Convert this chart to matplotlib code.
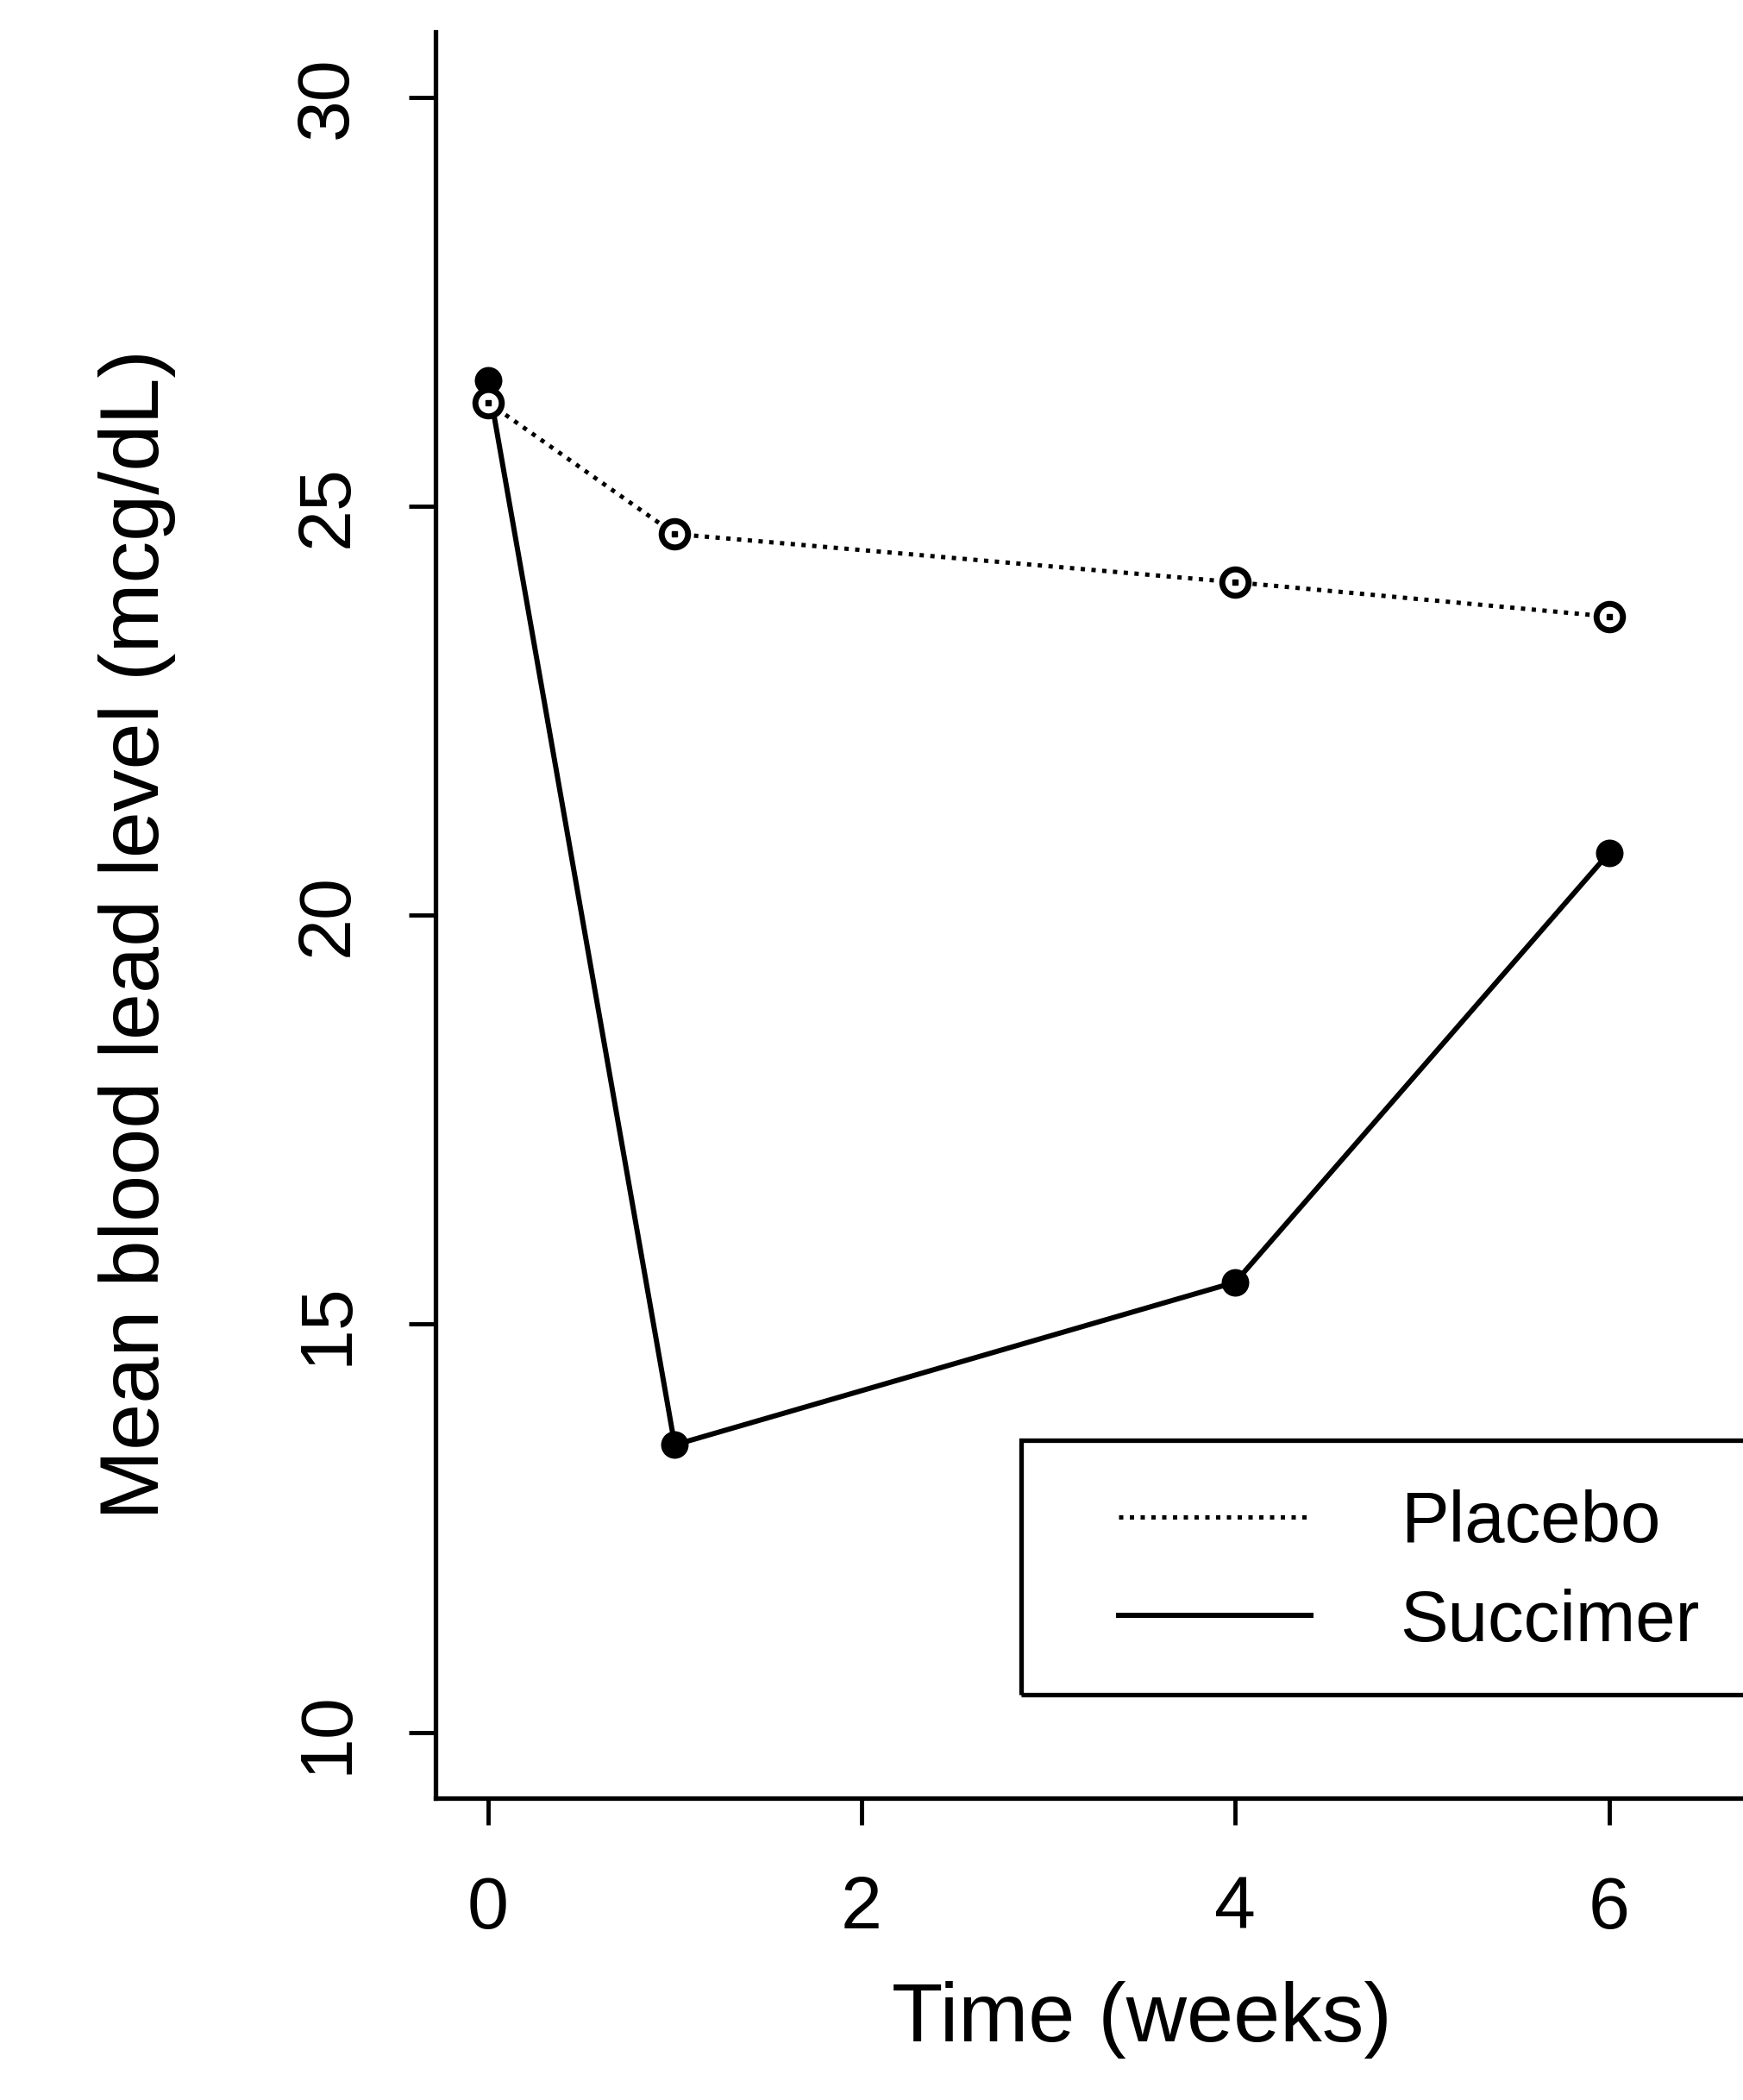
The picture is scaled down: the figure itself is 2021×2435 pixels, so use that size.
import matplotlib
matplotlib.use("Agg")
import matplotlib.pyplot as plt
from matplotlib.lines import Line2D
from matplotlib.patches import Rectangle

# mean blood lead level by group (TLC trial)
weeks = [0, 1, 4, 6]
placebo = [26.27, 24.66, 24.07, 23.65]
succimer = [26.54, 13.52, 15.51, 20.76]
x_ticks = [0, 2, 4, 6]
y_ticks = [10, 15, 20, 25, 30]
groups = ["Placebo", "Succimer"]

plt.rcParams['font.family'] = ['Liberation Sans', 'DejaVu Sans']

W, H = 2021, 2435
fig = plt.figure(figsize=(W / 100, H / 100), dpi=100)
ax = fig.add_axes([505 / W, 1 - 2085 / H, 1638 / W, 2048 / H])

dotted = (0, (1, 1.5))

ax.plot(weeks, succimer, color='black', lw=4.3, marker='o', ms=21,
        mfc='black', mec='black', mew=2, zorder=3)
ax.plot(weeks, placebo, color='black', lw=3.6, linestyle=dotted, marker='o', ms=22,
        mfc='white', mec='black', mew=5, zorder=4)
ax.plot(weeks, placebo, linestyle='none', marker='s', ms=4, color='black', zorder=5)

ax.set_xlim(-0.28, 7.28)
ax.set_ylim(9.2, 30.8)
ax.set_xticks(x_ticks, labels=[str(t) for t in x_ticks])
ax.set_yticks(y_ticks, labels=[str(t) for t in y_ticks], rotation=90, va='center')

ax.spines['top'].set_visible(False)
ax.spines['right'].set_visible(False)
for s in ['left', 'bottom']:
    ax.spines[s].set_linewidth(3.8)
ax.tick_params(axis='both', length=22, width=3.5, labelsize=62)
ax.tick_params(axis='x', pad=42)
ax.tick_params(axis='y', pad=39)

ax.set_xlabel("Time (weeks)", fontsize=70)
ax.xaxis.set_label_coords(0.5, -0.1035)
ax.set_ylabel("Mean blood lead level (mcg/dL)", fontsize=70)
ax.yaxis.set_label_coords(-0.184, 0.489)

handles = [Line2D([], [], color='black', lw=3.6, linestyle=dotted),
           Line2D([], [], color='black', lw=4.3)]
ax.legend(handles, groups, loc='upper left',
          bbox_to_anchor=(1297 / W, 1 - 1727 / H), bbox_transform=fig.transFigure,
          frameon=False, fontsize=60, handlelength=2.67, handletextpad=1.25,
          labelspacing=0.44, borderpad=0, borderaxespad=0)
fig.add_artist(Rectangle((1184 / W, 1 - 1965 / H), 909 / W, 295 / H,
                         transform=fig.transFigure, fill=False, lw=3.8, ec='black'))

fig.savefig("out.png", dpi=100)
